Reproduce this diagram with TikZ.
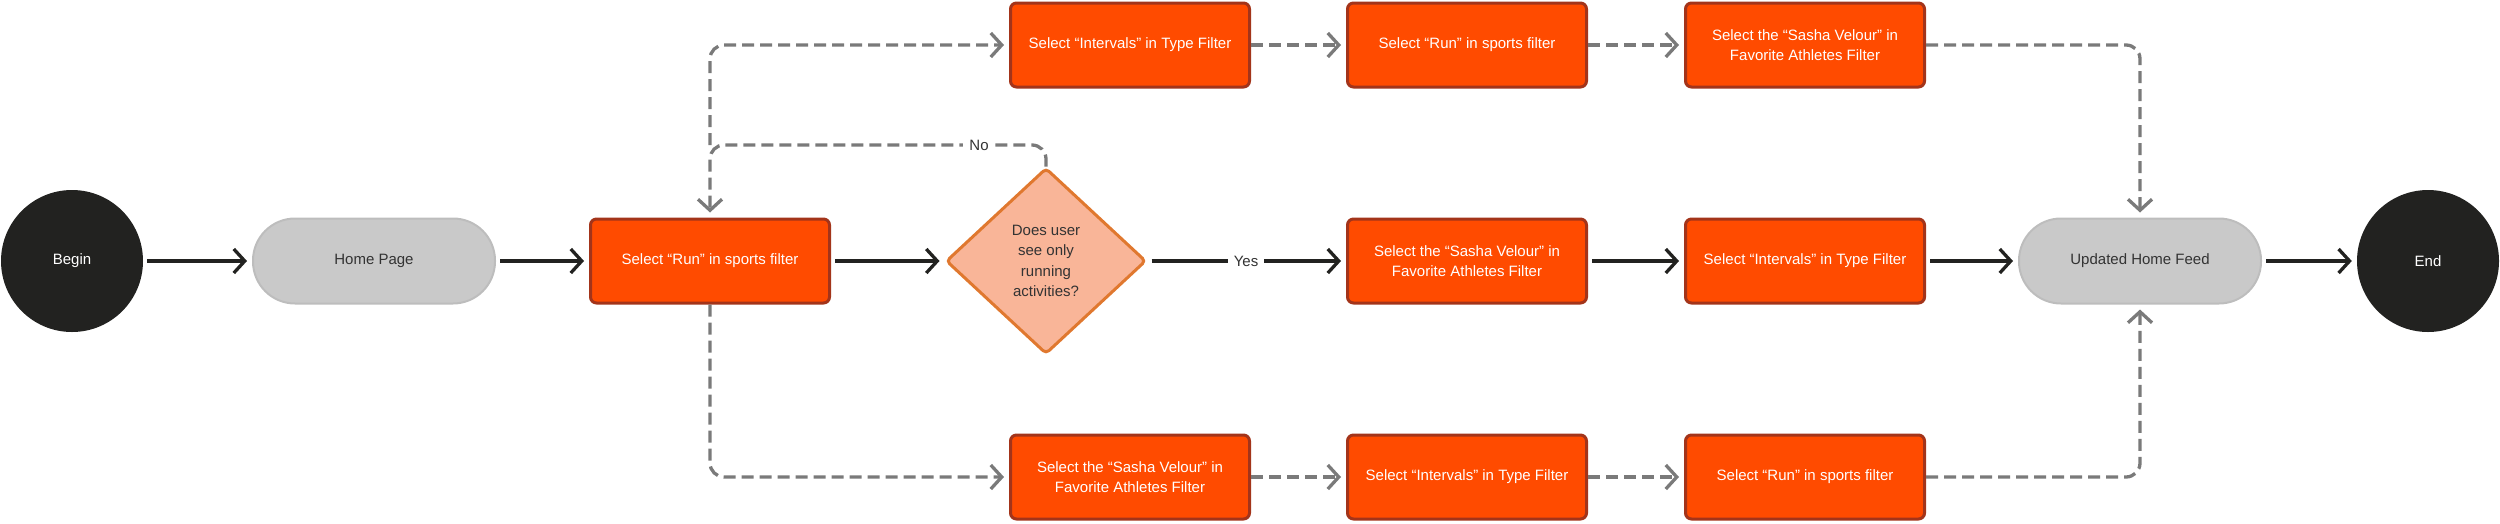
\documentclass[tikz,border=0pt]{standalone}
\usepackage{fontspec}
\setmainfont{Liberation Sans}
\usetikzlibrary{arrows.meta,shapes.geometric}
\definecolor{boxfill}{HTML}{FF4B00}
\definecolor{boxline}{HTML}{A3341A}
\definecolor{pillfill}{HTML}{C9C9C9}
\definecolor{pillline}{HTML}{BDBDBD}
\definecolor{decfill}{HTML}{F9B598}
\definecolor{decline}{HTML}{E0782F}
\definecolor{darkc}{HTML}{222220}
\definecolor{dashc}{HTML}{7A7A7A}
\definecolor{txtc}{HTML}{333333}
\begin{document}
\begin{tikzpicture}[x=1pt,y=-1pt,
  every node/.style={font=\fontsize{15}{20.5}\selectfont, align=center},
  terminal/.style={circle, fill=darkc, minimum size=142pt, inner sep=0pt, text=white},
  pill/.style={rectangle, rounded corners=42pt, fill=pillfill, draw=pillline, line width=2pt, minimum width=242pt, minimum height=85pt, text=txtc},
  stepbox/.style={rectangle, rounded corners=6pt, fill=boxfill, draw=boxline, line width=3pt, minimum width=239pt, minimum height=84pt, text=white, inner sep=0pt},
  decision/.style={diamond, fill=decfill, draw=decline, line width=3pt, minimum width=200pt, minimum height=186pt, inner sep=0pt, text=txtc, rounded corners=4pt},
  solidarrow/.style={draw=darkc, line width=3.3pt, -{Straight Barb[length=11pt,width=24pt]}, shorten <=4pt, shorten >=5pt},
  dasharrow/.style={draw=dashc, line width=3.3pt, dash pattern=on 12pt off 6pt, -{Straight Barb[length=11pt,width=24pt]}, rounded corners=14pt, shorten >=5pt},
  lbl/.style={fill=white, text=txtc, inner sep=6pt}
]
\useasboundingbox (0,0) rectangle (2500,523);

% main row
\node[terminal] (begin) at (72,261) {Begin};
\node[pill] (home) at (374,261) {Home Page};
\node[stepbox] (run) at (710,261) {Select “Run” in sports filter};
\node[decision] (dec) at (1046,261) {Does user\\see only\\running\\activities?};
\node[stepbox] (m1) at (1467,261) {Select the “Sasha Velour” in\\Favorite Athletes Filter};
\node[stepbox] (m2) at (1805,261) {Select “Intervals” in Type Filter};
\node[pill] (upd) at (2140,261) {Updated Home Feed};
\node[terminal] (end) at (2428,261) {End};

% top row
\node[stepbox] (t1) at (1130,45) {Select “Intervals” in Type Filter};
\node[stepbox] (t2) at (1467,45) {Select “Run” in sports filter};
\node[stepbox] (t3) at (1805,45) {Select the “Sasha Velour” in\\Favorite Athletes Filter};

% bottom row
\node[stepbox] (b1) at (1130,477) {Select the “Sasha Velour” in\\Favorite Athletes Filter};
\node[stepbox] (b2) at (1467,477) {Select “Intervals” in Type Filter};
\node[stepbox] (b3) at (1805,477) {Select “Run” in sports filter};

\coordinate (jn) at (710,145);

% solid connectors
\draw[solidarrow] (begin) -- (home);
\draw[solidarrow] (home) -- (run);
\draw[solidarrow] (run) -- (dec);
\draw[solidarrow] (dec) -- (m1);
\draw[solidarrow] (m1) -- (m2);
\draw[solidarrow] (m2) -- (upd);
\draw[solidarrow] (upd) -- (end);
\node[lbl] (yeslbl) at (1246,261) {Yes};

% dashed connectors
\draw[dasharrow] (dec.north) |- (jn) -- (run.north);
\node[lbl] (nolbl) at (979,145) {No};
\draw[dasharrow] (jn) |- (t1.west);
\draw[dasharrow] (t1) -- (t2);
\draw[dasharrow] (t2) -- (t3);
\draw[dasharrow] (t3.east) -| (upd.north);

\draw[dasharrow] (run.south) |- (b1.west);
\draw[dasharrow] (b1) -- (b2);
\draw[dasharrow] (b2) -- (b3);
\draw[dasharrow] (b3.east) -| (upd.south);
\end{tikzpicture}
\end{document}
